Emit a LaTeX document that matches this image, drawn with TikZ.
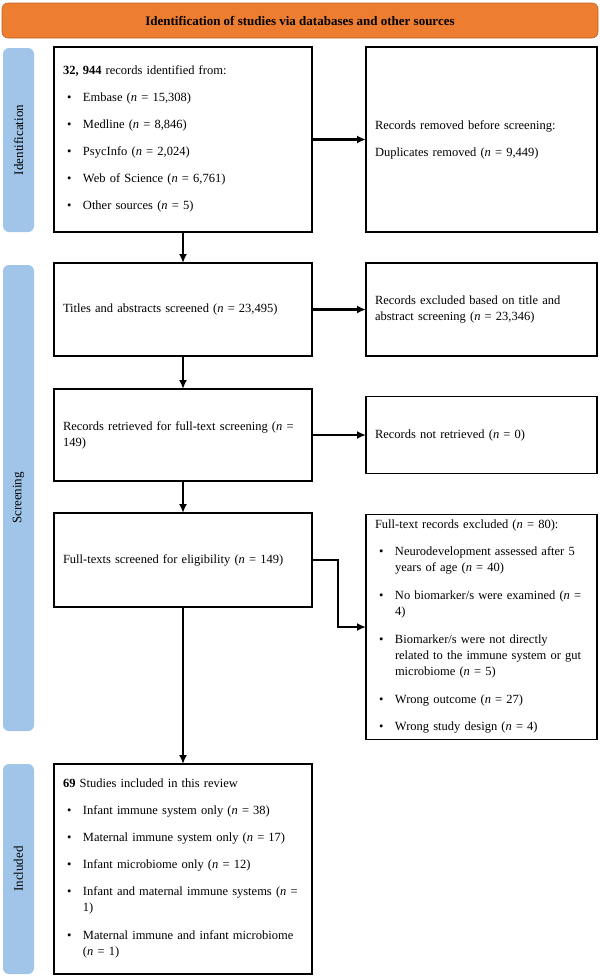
\documentclass[tikz,border=0pt]{standalone}
\usepackage{fontspec}
\setmainfont{Liberation Serif}
\usepackage{tikz}
\usetikzlibrary{arrows.meta}
\setlength{\parindent}{0pt}
\definecolor{headorange}{RGB}{237,125,49}
\definecolor{stageblue}{RGB}{160,197,232}
\newcommand{\boxfont}{\fontsize{12.5pt}{16pt}\selectfont}
\newcommand{\nn}[1]{(\textit{n} = #1)}
\newcommand{\bstrut}{\rule[-4.5pt]{0pt}{16pt}}
\newcommand{\gap}{\par\vspace{11pt}}
\newcommand{\bitem}[1]{\par\vspace{11pt}\makebox[20pt][l]{\hspace{4pt}\textbullet}\parbox[t]{\dimexpr\hsize-20pt\relax}{\raggedright\bstrut #1\bstrut}}
\tikzset{
  headbox/.style={rectangle, rounded corners=6pt, fill=headorange, draw=headorange!80!black, line width=0.6pt, minimum width=596pt, minimum height=35pt, font=\fontsize{13pt}{16pt}\selectfont\bfseries},
  stagebox/.style={rectangle, rounded corners=6pt, fill=stageblue, minimum height=31pt, rotate=90, font=\fontsize{13pt}{16pt}\selectfont},
  flowbox/.style={rectangle, draw, line width=1.5pt, align=left, inner xsep=9pt, inner ysep=0pt, outer sep=0pt, font=\boxfont},
  leftbox/.style={flowbox, text width=240pt},
  rightbox/.style={flowbox, text width=213pt},
  flowarrow/.style={-{Latex[length=9pt,width=8pt]}, line width=2.2pt}
}
\begin{document}
\begin{tikzpicture}[x=1pt,y=-1pt]
\useasboundingbox (0,0) rectangle (600,978);

\node[headbox] (head) at (300,20.5) {Identification of studies via databases and other sources};

\node[stagebox, minimum width=184pt] (lidf) at (18.5,140) {Identification};
\node[stagebox, minimum width=466pt] (lscr) at (18.5,498) {Screening};
\node[stagebox, minimum width=210pt] (linc) at (18.5,869) {Included};

\node[leftbox, minimum height=185pt] (recid) at (183,139.5) {\textbf{32, 944} records identified from:
  \bitem{Embase \nn{15,308}}
  \bitem{Medline \nn{8,846}}
  \bitem{PsycInfo \nn{2,024}}
  \bitem{Web of Science \nn{6,761}}
  \bitem{Other sources \nn{5}}};
\node[rightbox, minimum height=185pt] (dup) at (481.5,139.5) {Records removed before screening:\gap
  Duplicates removed \nn{9,449}};

\node[leftbox, minimum height=93pt] (screen) at (183,309.5) {Titles and abstracts screened \nn{23,495}};
\node[rightbox, minimum height=93pt] (excl) at (481.5,309.5) {Records excluded based on title and\\
  abstract screening \nn{23,346}};

\node[leftbox, minimum height=92pt] (retr) at (183,435) {Records retrieved for full-text screening (\textit{n} =\\
  149)};
\node[rightbox, minimum height=77pt] (notretr) at (481.5,435) {Records not retrieved \nn{0}};

\node[leftbox, minimum height=94pt] (elig) at (183,560) {Full-texts screened for eligibility \nn{149}};
\node[rightbox, minimum height=225pt] (ftexcl) at (481.5,627) {Full-text records excluded \nn{80}:
  \bitem{Neurodevelopment assessed after 5\\ years of age \nn{40}}
  \bitem{No biomarker/s were examined (\textit{n} =\\ 4)}
  \bitem{Biomarker/s were not directly\\ related to the immune system or gut\\ microbiome \nn{5}}
  \bitem{Wrong outcome \nn{27}}
  \bitem{Wrong study design \nn{4}}};

\node[leftbox, minimum height=210pt] (incl) at (183,869) {\textbf{69} Studies included in this review
  \bitem{Infant immune system only \nn{38}}
  \bitem{Maternal immune system only \nn{17}}
  \bitem{Infant microbiome only \nn{12}}
  \bitem{Infant and maternal immune systems (\textit{n} =\\ 1)}
  \bitem{Maternal immune and infant microbiome\\ \nn{1}}};

\draw[flowarrow] (recid) -- (screen);
\draw[flowarrow] (recid) -- (dup);
\draw[flowarrow] (screen) -- (excl);
\draw[flowarrow] (screen) -- (retr);
\draw[flowarrow] (retr) -- (notretr);
\draw[flowarrow] (retr) -- (elig);
\draw[flowarrow] (elig.east) -- ++(26,0) |- (ftexcl.west);
\draw[flowarrow] (elig) -- (incl);
\end{tikzpicture}
\end{document}
